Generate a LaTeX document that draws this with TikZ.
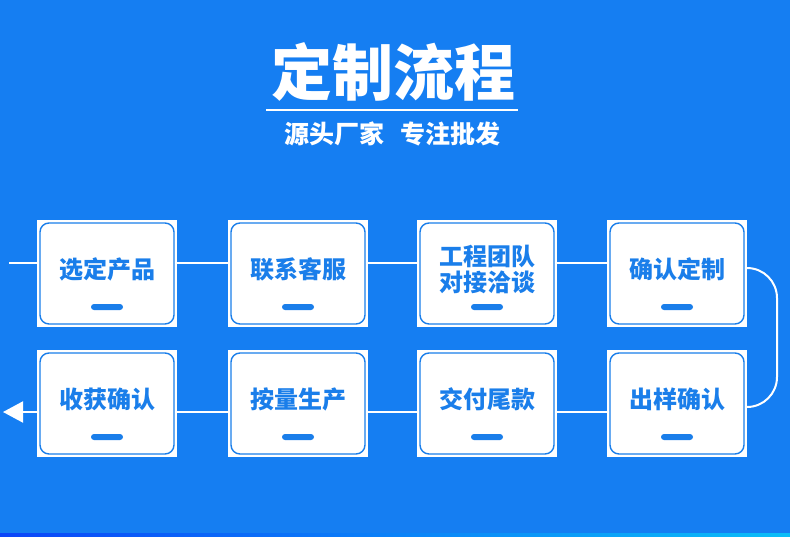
\documentclass[tikz,border=0pt]{standalone}
\usepackage{fontspec}
\setmainfont{Noto Sans CJK SC}
\usetikzlibrary{arrows.meta}
\definecolor{flowblue}{HTML}{157EF2}
\definecolor{boxblue}{HTML}{1A7EEA}
\begin{document}
\begin{tikzpicture}[x=1pt, y=-1pt,
  pad/.style={fill=white, minimum width=140pt, minimum height=107pt, inner sep=0pt},
  box/.style={draw=boxblue, line width=1.4pt, rounded corners=9pt, minimum width=134pt, minimum height=101pt, inner sep=0pt},
  steptext/.style={text=boxblue, font=\bfseries\fontsize{24}{26}\selectfont, align=center},
  bar/.style={fill=boxblue, rounded corners=3pt, minimum width=32pt, minimum height=6pt, inner sep=0pt},
  link/.style={draw=white, line width=2pt}]
  \useasboundingbox (0,0) rectangle (790,536);
  \fill[flowblue] (0,0) rectangle (790,536);
  \shade[left color=blue!45!flowblue, right color=cyan!50!flowblue] (0,533) rectangle (790,536);
  % title
  \node[text=white, font=\bfseries\fontsize{61}{61}\selectfont] (title) at (393,72) {定制流程};
  \draw[white, line width=2pt] (266,110) -- (518,110);
  \node[text=white, font=\bfseries\fontsize{25}{25}\selectfont] (sub) at (392,134) {源头厂家\hspace{16pt}专注批发};
  % connectors first, boxes on top
  \coordinate (in) at (9,263);
  \coordinate (back) at (3,412);
  \foreach \i/\x/\y in {1/107/273.5, 2/298/273.5, 3/487/273.5, 4/677/273.5,
                        5/107/403.5, 6/298/403.5, 7/487/403.5, 8/677/403.5}
    \node[pad] (P\i) at (\x,\y) {};
  \draw[link] (in) -- (in -| P1.west);
  \foreach \a/\b in {1/2, 2/3, 3/4}
    \draw[link] (in -| P\a.east) -- (in -| P\b.west);
  \draw[link, rounded corners=30pt] (P4.east |- 0,268) -- (777,268) -- (777,407) -- (P8.east |- 0,407);
  \foreach \a/\b in {8/7, 7/6, 6/5}
    \draw[link] (back -| P\a.west) -- (back -| P\b.east);
  \draw[link, -{Triangle[length=20pt, width=21pt]}] (back -| P5.west) -- (back);
  \foreach \i/\txt in {1/选定产品, 2/联系客服, 3/{工程团队\\对接洽谈}, 4/确认定制,
                       5/收获确认, 6/按量生产, 7/交付尾款, 8/出样确认} {
    \node[box] (B\i) at (P\i) {};
    \node[steptext, yshift=4pt] (T\i) at (B\i) {\txt};
    \node[bar, yshift=-33.5pt] (D\i) at (B\i) {};
  }
\end{tikzpicture}
\end{document}
